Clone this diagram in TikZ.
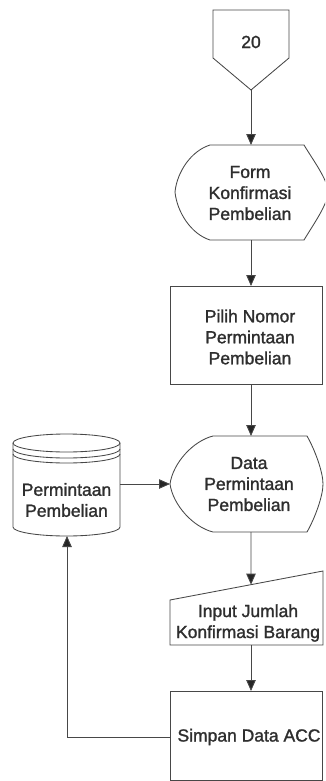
\documentclass[tikz,border=0pt]{standalone}
\usepackage{fontspec}
\setmainfont{Liberation Sans}
\newfontfamily\lblfont{Liberation Sans}[FakeBold=1.4]
\usetikzlibrary{arrows.meta,calc}
\begin{document}
\begin{tikzpicture}[x=1pt,y=-1pt,
  ln/.style={draw=black!72, line width=0.85pt, line join=miter},
  flow/.style={draw=black!72, line width=0.85pt, -{Triangle[length=11pt,width=9.5pt,fill=black!85]}},
  lbl/.style={font=\lblfont\fontsize{17.5}{21}\selectfont, align=center, text=black!82, inner sep=0pt}]
\useasboundingbox (0,0) rectangle (325,781);
\fill[white] (0,0) rectangle (325,781);
\clip (0,0) rectangle (325,781);

% off-page connector
\draw[ln] (213,10) -- (289,10) -- (289,58) -- (251,90) -- (213,58) -- cycle;
\node[lbl] (pg) at (251,42) {20};
\coordinate (pgB) at (251,90);

% display: Form Konfirmasi Pembelian
\draw[ln] (210,145) -- (304,145) .. controls (313,160) and (328,180) .. (328,192)
  .. controls (328,204) and (313,225) .. (304,240) -- (210,240)
  .. controls (191,234) and (177,212) .. (175,192)
  .. controls (177,172) and (191,151) .. (210,145) -- cycle;
\node[lbl] (form) at (250,193) {Form\\Konfirmasi\\Pembelian};
\coordinate (formT) at (251,145);
\coordinate (formB) at (251,240);

% process: Pilih Nomor Permintaan Pembelian
\draw[ln] (170,286) rectangle (322,384);
\node[lbl] (pilih) at (250,337) {Pilih Nomor\\Permintaan\\Pembelian};
\coordinate (pilT) at (251,286);
\coordinate (pilB) at (251,384);

% display: Data Permintaan Pembelian
\draw[ln] (213,436) -- (307,436) .. controls (315,450) and (323,472) .. (323,484)
  .. controls (323,496) and (315,518) .. (307,532) -- (213,532)
  .. controls (193,527) and (173,505) .. (170,484)
  .. controls (173,463) and (193,441) .. (213,436) -- cycle;
\node[lbl] (data) at (249,484) {Data\\Permintaan\\Pembelian};
\coordinate (datT) at (251,436);
\coordinate (datL) at (170,484);
\coordinate (datB) at (251,532);

% stored data: Permintaan Pembelian
\draw[ln] (13,443) -- (13,527) arc[start angle=180, end angle=360, x radius=53.5pt, y radius=9pt]
  -- (120,443);
\draw[ln] (66.5,443) ellipse[x radius=53.5pt, y radius=9pt];
\draw[ln] (13,449) arc[start angle=180, end angle=360, x radius=53.5pt, y radius=9pt];
\draw[ln] (13,454) arc[start angle=180, end angle=360, x radius=53.5pt, y radius=9pt];
\node[lbl] (arsip) at (66.5,500) {Permintaan\\Pembelian};
\coordinate (cylR) at (120,484);
\coordinate (cylB) at (67,536);

% manual input: Input Jumlah Konfirmasi Barang
\coordinate (inTL) at (170,600);
\coordinate (inTR) at (323,571);
\draw[ln] (inTL) -- (inTR) -- (323,645) -- (170,645) -- cycle;
\node[lbl] (input) at (248,623) {Input Jumlah\\Konfirmasi Barang};
\coordinate (inT) at ($(inTL)!{81/153}!(inTR)$);
\coordinate (inB) at (251,645);

% process: Simpan Data ACC
\draw[ln] (170,691) rectangle (322,780);
\node[lbl] (simpan) at (249,737) {Simpan Data ACC};
\coordinate (simT) at (251,691);
\coordinate (simL) at (170,737);
\coordinate (ret) at (67,737);

% connectors
\draw[flow] (pgB) -- (formT);
\draw[flow] (formB) -- (pilT);
\draw[flow] (pilB) -- (datT);
\draw[flow] (cylR) -- (datL);
\draw[flow] (datB) -- (inT);
\draw[flow] (inB) -- (simT);
\draw[flow] (simL) -- (ret) -- (cylB);
\end{tikzpicture}
\end{document}
